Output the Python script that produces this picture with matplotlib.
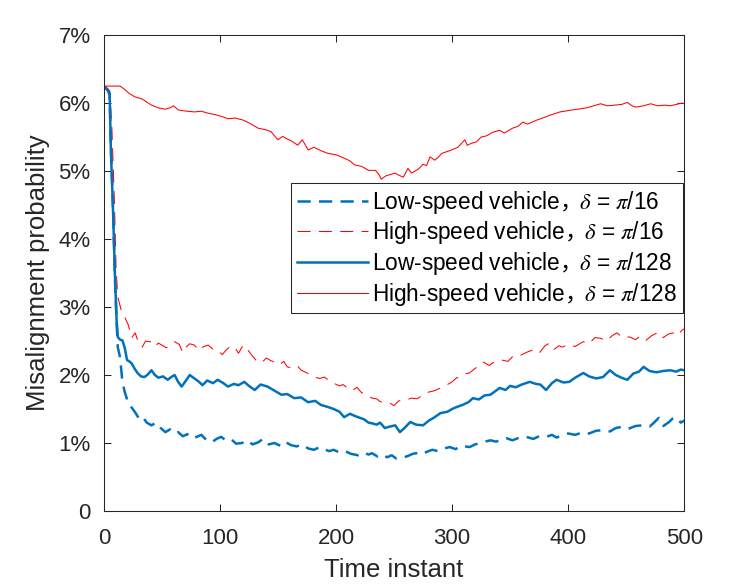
import numpy as np
import matplotlib
matplotlib.use("Agg")
import matplotlib.pyplot as plt
from matplotlib.ticker import FixedLocator, FixedFormatter

plt.rcParams['font.family'] = ['Liberation Sans', 'Noto Sans CJK SC', 'DejaVu Sans']
plt.rcParams['mathtext.fontset'] = 'custom'
plt.rcParams['mathtext.rm'] = 'Noto Sans CJK SC'
plt.rcParams['mathtext.it'] = 'STIXGeneral:italic'
plt.rcParams['mathtext.fallback'] = 'stix'

# high-speed vehicle, delta = pi/128 (red solid)
t_hs128 = [1, 5, 10, 14, 18, 22, 27, 33, 41, 47, 53, 57, 60, 64, 67, 72, 78, 84, 90, 96,
           102, 107, 113, 120, 126, 133, 139, 144, 150, 154, 157, 162, 167, 171, 176, 181,
           187, 193, 200, 207, 212, 216, 222, 228, 234, 237, 239, 243, 247, 251, 254, 258,
           262, 265, 267, 271, 275, 278, 281, 285, 288, 291, 298, 305, 311, 313, 317, 321,
           325, 330, 335, 341, 345, 352, 357, 361, 365, 373, 378, 384, 393, 404, 416, 428,
           434, 440, 446, 451, 455, 458, 465, 471, 477, 483, 488, 493, 498, 500]
v_hs128 = [6.25, 6.25, 6.25, 6.25, 6.20, 6.14, 6.09, 6.06, 5.97, 5.93, 5.91, 5.93, 5.96, 5.90,
           5.89, 5.88, 5.87, 5.88, 5.85, 5.83, 5.80, 5.77, 5.78, 5.75, 5.70, 5.63, 5.61, 5.58,
           5.46, 5.51, 5.48, 5.44, 5.38, 5.46, 5.31, 5.35, 5.30, 5.26, 5.24, 5.19, 5.15, 5.09,
           5.07, 5.01, 5.01, 4.95, 4.88, 4.93, 4.95, 4.97, 4.94, 4.91, 5.04, 4.97, 4.99, 5.03,
           5.10, 5.08, 5.21, 5.16, 5.20, 5.26, 5.30, 5.35, 5.46, 5.38, 5.41, 5.43, 5.50, 5.52,
           5.57, 5.60, 5.56, 5.63, 5.66, 5.72, 5.69, 5.75, 5.78, 5.82, 5.87, 5.90, 5.93, 5.99,
           5.96, 5.97, 5.98, 6.01, 5.96, 5.94, 5.96, 5.99, 5.96, 5.97, 5.96, 5.98, 6.00, 5.99]

# low-speed vehicle, delta = pi/128 (blue solid)
t_ls128 = [1, 3, 5, 6, 8, 9.5, 11, 12, 14, 16, 18, 20, 22, 24, 27, 29, 32, 35, 38, 41, 44,
           47, 51, 55, 58, 61, 64, 67, 70, 74, 78, 82, 85, 89, 94, 98, 103, 107, 112, 116,
           121, 125, 130, 135, 141, 147, 153, 158, 164, 170, 176, 182, 187, 193, 198, 203,
           207, 212, 216, 219, 224, 228, 231, 235, 238, 242, 246, 251, 255, 259, 264, 269,
           275, 280, 285, 290, 296, 300, 304, 309, 314, 318, 323, 328, 333, 337, 341, 346,
           350, 355, 360, 367, 372, 376, 381, 386, 390, 396, 401, 406, 413, 418, 424, 430,
           436, 441, 446, 451, 456, 461, 465, 470, 476, 482, 488, 493, 497, 500]
v_ls128 = [6.22, 6.20, 6.15, 5.35, 4.38, 3.50, 2.80, 2.56, 2.52, 2.51, 2.40, 2.22, 2.20, 2.17,
           2.08, 2.03, 1.98, 1.97, 2.01, 2.07, 2.00, 1.96, 1.98, 1.93, 1.97, 2.00, 1.90, 1.83,
           1.90, 2.00, 1.95, 1.90, 1.85, 1.92, 1.88, 1.93, 1.88, 1.83, 1.87, 1.85, 1.90, 1.84,
           1.78, 1.86, 1.83, 1.77, 1.71, 1.72, 1.66, 1.67, 1.60, 1.62, 1.56, 1.53, 1.50, 1.46,
           1.38, 1.43, 1.40, 1.38, 1.35, 1.30, 1.29, 1.27, 1.30, 1.22, 1.24, 1.26, 1.16, 1.22,
           1.31, 1.27, 1.26, 1.33, 1.38, 1.44, 1.46, 1.50, 1.53, 1.56, 1.60, 1.66, 1.64, 1.70,
           1.71, 1.76, 1.81, 1.78, 1.84, 1.82, 1.86, 1.90, 1.87, 1.86, 1.78, 1.88, 1.93, 1.89,
           1.90, 1.96, 2.03, 1.98, 1.95, 1.97, 2.07, 2.00, 1.96, 1.93, 2.02, 2.05, 2.12, 2.06,
           2.04, 2.06, 2.07, 2.05, 2.08, 2.07]

# high-speed vehicle, delta = pi/16 (red dashed)
t_hs16 = [1, 3, 5, 7, 9, 10.5, 12, 15, 18, 21, 24, 27, 30, 33, 36, 40, 44, 47, 50, 54, 58,
          61, 65, 68, 70, 74, 78, 82, 86, 90, 94, 98, 102, 106, 110, 113, 116, 120, 124, 128,
          132, 136, 140, 144, 147, 151, 155, 158, 163, 167, 170, 174, 178, 181, 186, 190, 193,
          198, 203, 206, 210, 214, 218, 222, 226, 231, 235, 238, 242, 246, 250, 254, 260, 265,
          270, 275, 280, 285, 290, 295, 300, 304, 308, 312, 315, 320, 324, 327, 332, 337, 343,
          348, 352, 355, 360, 365, 370, 375, 380, 384, 388, 392, 395, 400, 406, 413, 418, 423,
          428, 433, 438, 442, 447, 453, 458, 462, 467, 472, 478, 482, 486, 490, 494, 498, 500]
v_hs16 = [6.25, 6.22, 6.18, 5.60, 4.60, 3.60, 3.15, 2.95, 2.85, 2.74, 2.55, 2.62, 2.47, 2.41,
          2.50, 2.49, 2.42, 2.47, 2.44, 2.40, 2.45, 2.49, 2.45, 2.33, 2.40, 2.46, 2.44, 2.36,
          2.42, 2.44, 2.38, 2.37, 2.30, 2.38, 2.43, 2.40, 2.32, 2.44, 2.37, 2.28, 2.20, 2.18,
          2.25, 2.21, 2.19, 2.15, 2.20, 2.12, 2.10, 2.13, 2.07, 2.04, 2.00, 1.97, 1.95, 1.97,
          1.93, 1.88, 1.84, 1.86, 1.81, 1.77, 1.82, 1.74, 1.72, 1.66, 1.65, 1.61, 1.59, 1.59,
          1.55, 1.62, 1.63, 1.66, 1.65, 1.71, 1.75, 1.77, 1.81, 1.85, 1.90, 1.96, 1.97, 2.02,
          2.03, 2.10, 2.15, 2.19, 2.14, 2.20, 2.22, 2.20, 2.27, 2.26, 2.30, 2.34, 2.37, 2.32,
          2.43, 2.47, 2.38, 2.43, 2.41, 2.45, 2.42, 2.49, 2.46, 2.55, 2.54, 2.50, 2.58, 2.62,
          2.55, 2.56, 2.52, 2.57, 2.51, 2.58, 2.63, 2.55, 2.60, 2.62, 2.58, 2.66, 2.68]

# low-speed vehicle, delta = pi/16 (blue dashed)
t_ls16 = [1, 3, 5, 6, 8, 9.5, 11, 12, 14, 16, 18, 21, 24, 27, 31, 34, 37, 41, 45, 49, 53,
          57, 61, 64, 68, 72, 76, 80, 84, 88, 93, 97, 101, 106, 110, 114, 119, 124, 128, 133,
          137, 142, 147, 152, 156, 161, 166, 171, 176, 181, 186, 190, 194, 198, 203, 208, 213,
          219, 224, 228, 231, 236, 240, 244, 248, 252, 257, 262, 266, 269, 274, 278, 283, 288,
          293, 298, 303, 308, 315, 320, 326, 333, 338, 343, 347, 352, 358, 364, 370, 375, 381,
          386, 390, 395, 400, 406, 413, 418, 424, 430, 436, 441, 447, 452, 458, 464, 470, 474,
          478, 482, 487, 490, 493, 497, 500]
v_ls16 = [6.22, 6.20, 6.12, 5.40, 4.40, 3.45, 2.80, 2.41, 2.26, 1.90, 1.75, 1.59, 1.52, 1.45,
          1.34, 1.37, 1.30, 1.26, 1.30, 1.22, 1.16, 1.20, 1.14, 1.16, 1.10, 1.13, 1.07, 1.09,
          1.12, 1.05, 1.01, 1.06, 1.09, 1.03, 1.05, 0.99, 1.00, 1.04, 0.98, 1.01, 1.06, 0.98,
          1.00, 0.96, 1.02, 0.97, 0.95, 0.98, 0.92, 0.90, 0.94, 0.91, 0.88, 0.90, 0.86, 0.88,
          0.84, 0.82, 0.86, 0.83, 0.85, 0.80, 0.83, 0.79, 0.82, 0.77, 0.78, 0.81, 0.84, 0.85,
          0.83, 0.87, 0.90, 0.88, 0.92, 0.94, 0.91, 0.96, 0.94, 0.98, 1.01, 1.04, 1.02, 1.06,
          1.07, 1.04, 1.08, 1.09, 1.06, 1.10, 1.09, 1.12, 1.08, 1.12, 1.14, 1.12, 1.16, 1.14,
          1.18, 1.19, 1.17, 1.22, 1.24, 1.21, 1.25, 1.26, 1.24, 1.30, 1.37, 1.25, 1.31, 1.36,
          1.38, 1.30, 1.33]

labels = [r'Low-speed vehicle$\mathrm{，}\!\delta$ = $\pi$/16',
          r'High-speed vehicle$\mathrm{，}\!\delta$ = $\pi$/16',
          r'Low-speed vehicle$\mathrm{，}\!\delta$ = $\pi$/128',
          r'High-speed vehicle$\mathrm{，}\!\delta$ = $\pi$/128']

yticks = [0, 1, 2, 3, 4, 5, 6, 7]
ytick_labels = ['0', '1%', '2%', '3%', '4%', '5%', '6%', '7%']
xticks = [0, 100, 200, 300, 400, 500]

blue = '#0072BD'
red = '#FF0000'
dark = '#262626'

fig = plt.figure(figsize=(7.47, 5.85), dpi=100)
ax = fig.add_axes([0.139, 0.1265, 0.777, 0.8135])

ax.plot(t_ls16, v_ls16, color=blue, lw=1.8, dashes=(5.3, 3.3), label=labels[0])
ax.plot(t_hs16, v_hs16, color=red, lw=0.75, dashes=(12.5, 8), label=labels[1])
ax.plot(t_ls128, v_ls128, color=blue, lw=1.8, label=labels[2])
ax.plot(t_hs128, v_hs128, color=red, lw=0.75, label=labels[3])

ax.set_xlim(0, 500)
ax.set_ylim(0, 7)
ax.xaxis.set_major_locator(FixedLocator(xticks))
ax.yaxis.set_major_locator(FixedLocator(yticks))
ax.yaxis.set_major_formatter(FixedFormatter(ytick_labels))

ax.tick_params(direction='in', length=5, width=0.75, colors=dark, labelsize=16,
               top=True, right=True)
ax.tick_params(axis='x', pad=12)
ax.tick_params(axis='y', pad=9.5)
for sp in ax.spines.values():
    sp.set_color(dark)
    sp.set_linewidth(0.75)

ax.set_xlabel('Time instant', fontsize=18.5, color=dark, labelpad=7)
ax.set_ylabel('Misalignment probability', fontsize=18.5, color=dark, labelpad=6)

leg = ax.legend(loc='upper right', bbox_to_anchor=(0.998, 0.689), fontsize=16.3,
                frameon=True, fancybox=False, framealpha=1, edgecolor=dark,
                handlelength=3.15, handletextpad=0.2, labelspacing=0.16,
                borderpad=0.25, borderaxespad=0)
leg.get_frame().set_linewidth(0.75)

fig.savefig('out.png', dpi=100)
